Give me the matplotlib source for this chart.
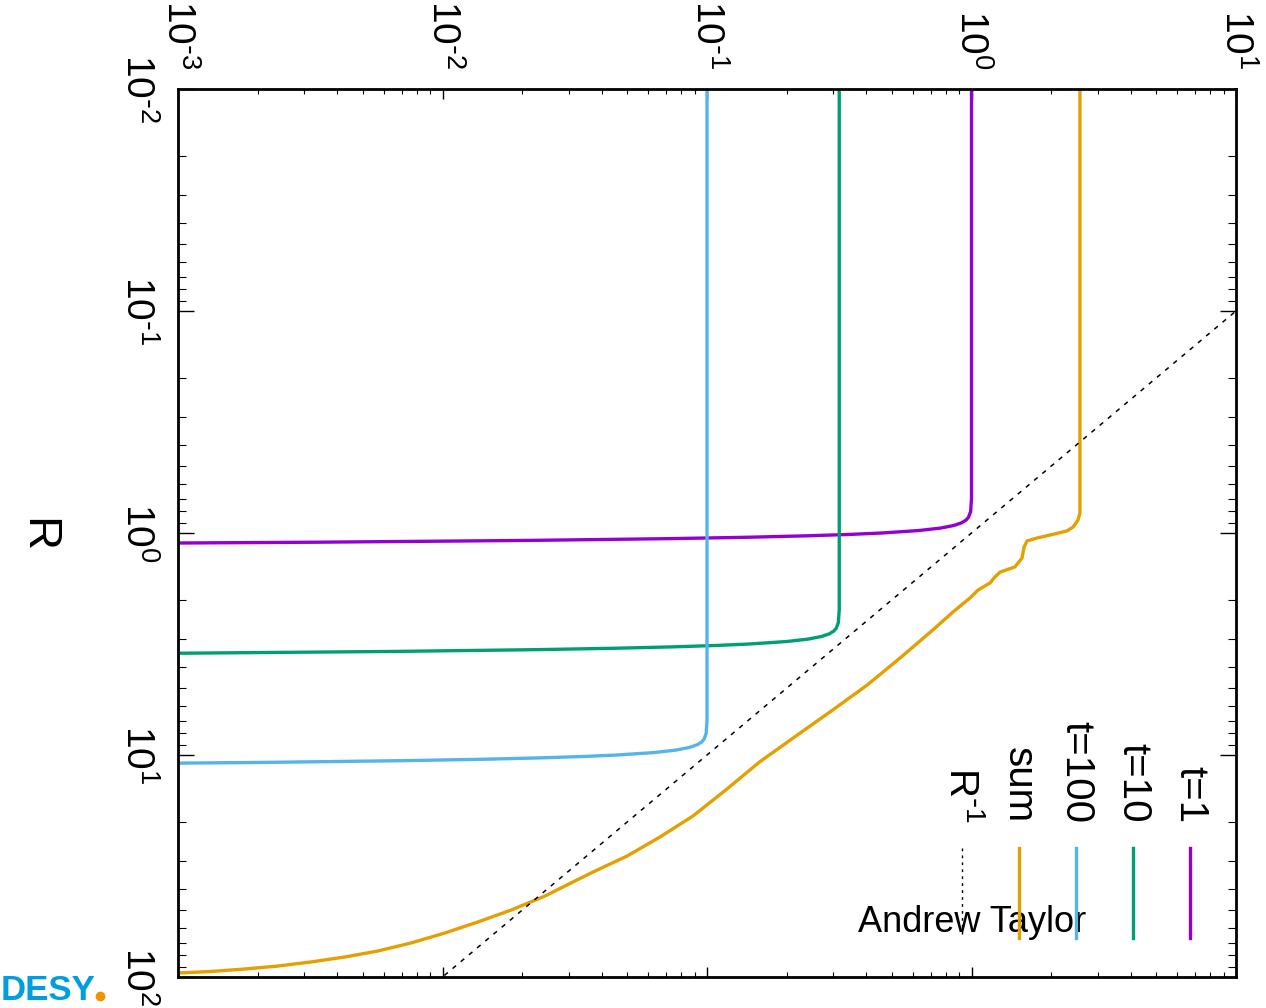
import numpy as np
import matplotlib.pyplot as plt
from matplotlib.lines import Line2D
from matplotlib.ticker import FuncFormatter

plt.rcParams['font.family'] = ['Liberation Sans', 'DejaVu Sans']
plt.rcParams['mathtext.default'] = 'regular'

# density n(R) for the three times
r_t1 = [0.01, 0.7, 0.8, 0.85, 0.875, 0.9, 0.925, 0.95, 0.975, 1.0, 1.015, 1.03, 1.045, 1.06, 1.08, 1.1, 1.12]
n_t1 = [1.0, 1.0, 0.9925, 0.974, 0.953, 0.917, 0.857, 0.765, 0.631, 0.458, 0.345, 0.236, 0.143, 0.073, 0.021, 0.0034, 0.00026]

r_t10 = [0.01, 2.214, 2.530, 2.688, 2.767, 2.846, 2.925, 3.004, 3.083, 3.162, 3.210, 3.257, 3.304, 3.352, 3.415, 3.478, 3.541]
n_t10 = [0.3162, 0.3162, 0.3138, 0.3080, 0.3013, 0.2900, 0.2710, 0.2419, 0.1995, 0.1448, 0.1091, 0.0746, 0.0452, 0.0231, 0.00664, 0.00108, 0.000082]

r_t100 = [0.01, 7.0, 8.0, 8.5, 8.75, 9.0, 9.25, 9.5, 9.75, 10.0, 10.15, 10.3, 10.45, 10.6, 10.8, 11.0, 11.2]
n_t100 = [0.1, 0.1, 0.09925, 0.0974, 0.0953, 0.0917, 0.0857, 0.0765, 0.0631, 0.0458, 0.0345, 0.0236, 0.0143, 0.0073, 0.0021, 0.00034, 0.000026]

r_sum = [0.01, 0.813, 0.873, 0.940, 0.979, 1.021, 1.053, 1.086, 1.156, 1.297, 1.422, 1.500, 1.578, 1.679,
         1.807, 1.963, 2.270, 2.735, 3.656, 4.842, 6.266, 7.962, 10.75, 14.23, 18.83, 23.41, 28.51, 33.65,
         36.38, 43.17, 49.92, 56.54, 63.37, 70.28, 76.35, 81.25, 85.57, 89.23, 92.04, 94.46, 95.94]
n_sum = [2.57, 2.57, 2.529, 2.421, 2.296, 1.982, 1.770, 1.622, 1.581, 1.552, 1.459, 1.282, 1.227, 1.175,
         1.059, 0.986, 0.851, 0.714, 0.537, 0.403, 0.299, 0.225, 0.158, 0.119, 0.0885, 0.0664, 0.0499, 0.0371,
         0.0325, 0.0244, 0.0182, 0.0136, 0.0102, 0.0076, 0.0057, 0.00428, 0.00318, 0.00239, 0.00179, 0.00133, 0.001]

# R^-1 reference
r_ref = [0.01, 100.0]
n_ref = [100.0, 0.01]

labels = ['t=1', 't=10', 't=100', 'sum', r'$R^{\text{-}1}$']
colors = ['#9400d3', '#009e73', '#56b4e9', '#e69f00', 'black']

W, H = 1266, 1008
fig = plt.figure(figsize=(W / 100, H / 100), dpi=100)
ax = fig.add_axes([178 / W, 31 / H, 1058 / W, 888 / H])

curves = [(r_t1, n_t1), (r_t10, n_t10), (r_t100, n_t100), (r_sum, n_sum)]
for (r, n), c in zip(curves, colors):
    ax.plot(n, r, color=c, lw=2.4, solid_joinstyle='round')
ax.plot(n_ref, r_ref, color='black', lw=1.1, ls=(0, (3, 4)))

ax.set_xscale('log')
ax.set_yscale('log')
ax.set_xlim(1e-3, 10)
ax.set_ylim(100, 0.01)
ax.set_xticks([1e-3, 1e-2, 1e-1, 1, 10])
ax.set_yticks([1e-2, 1e-1, 1, 10, 100])


def pow10(v, pos):
    e = int(round(np.log10(v)))
    if e < 0:
        return r'$10^{\text{-}%d}$' % -e
    return r'$10^{%d}$' % e


ax.xaxis.set_major_formatter(FuncFormatter(pow10))
ax.yaxis.set_major_formatter(FuncFormatter(pow10))

for s in ax.spines.values():
    s.set_linewidth(2.0)

ax.xaxis.set_ticks_position('both')
ax.yaxis.set_ticks_position('both')
ax.tick_params(axis='x', which='major', direction='in', length=7, width=1,
               labeltop=True, labelbottom=False, labelsize=28, labelrotation=270, pad=14)
ax.tick_params(axis='x', which='minor', direction='in', length=3.6, width=0.8)
ax.tick_params(axis='y', which='major', direction='in', length=11.5, width=1,
               labelsize=28, labelrotation=270, pad=16)
ax.tick_params(axis='y', which='minor', direction='in', length=5.8, width=0.8)
for lbl in ax.get_xticklabels():
    lbl.set_ha('center')
    lbl.set_va('bottom')
for lbl in ax.get_yticklabels():
    lbl.set_ha('right')
    lbl.set_va('center')

fig.text(37 / W, 1 - 535 / H, 'R', rotation=270, ha='center', va='center', fontsize=34)

# key: vertical samples with rotated labels
for i, (lab, c) in enumerate(zip(labels, colors)):
    xf = (1190 - 57 * i - 178) / 1058
    y_top = (977 - 848) / 888
    y_bot = (977 - 938) / 888
    if lab.startswith('$'):
        ax.plot([xf, xf], [y_top, y_bot], transform=ax.transAxes, color=c, lw=1.0, ls=(0, (2, 3)))
    else:
        ax.plot([xf, xf], [y_top, y_bot], transform=ax.transAxes, color=c, lw=2.4)
    ax.text(xf, (977 - 823) / 888, lab, transform=ax.transAxes, rotation=270,
            ha='center', va='bottom', fontsize=29)

ax.text(858 / W, 1 - 932 / H, 'Andrew Taylor', transform=fig.transFigure,
        fontsize=26, ha='left', va='baseline', zorder=1)

fig.text(95 / W, 1 - 1000 / H, 'DESY', color='#009ee0', fontsize=25, fontweight='bold',
         ha='right', va='baseline')
fig.add_artist(Line2D([100 / W], [1 - 996 / H], marker='o', ms=6, color='#f39200',
                      transform=fig.transFigure))

fig.savefig('out.png', dpi=100)
